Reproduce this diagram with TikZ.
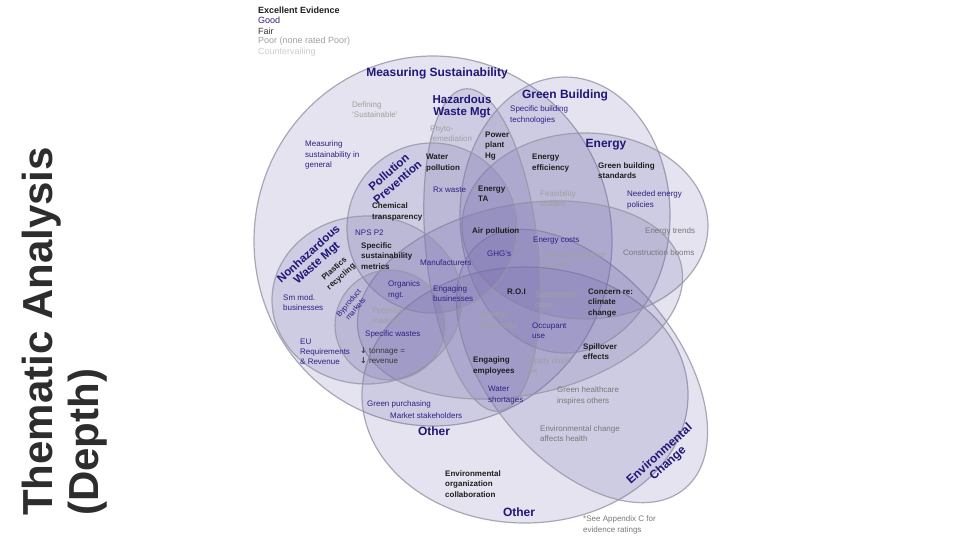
\documentclass[tikz,border=0pt]{standalone}
\usepackage{fontspec}
\setmainfont{Liberation Sans}
\newfontfamily\symfont{DejaVu Sans}
\definecolor{navy}{RGB}{45,32,135}
\definecolor{labnavy}{RGB}{32,22,122}
\definecolor{excc}{RGB}{30,30,30}
\definecolor{fairc}{RGB}{55,55,55}
\definecolor{poorc}{RGB}{160,160,160}
\definecolor{midg}{RGB}{120,120,120}
\definecolor{cntc}{RGB}{205,205,205}
\definecolor{vfill}{RGB}{110,100,170}
\definecolor{vline}{RGB}{150,150,165}
\definecolor{titc}{RGB}{45,45,45}
\begin{document}
\begin{tikzpicture}[x=1pt,y=-1pt,
  venn/.style={fill=vfill, fill opacity=0.18, draw=vline, draw opacity=0.8, line width=1.2pt},
  lab/.style={font=\fontsize{12}{12.5}\selectfont\bfseries, text=labnavy, align=center, inner sep=0pt},
  base/.style={font=\fontsize{8}{10.2}\selectfont, align=left, anchor=west, inner sep=0pt},
  good/.style={base, text=navy},
  exc/.style={base, font=\fontsize{8}{10.2}\selectfont\bfseries, text=excc},
  fair/.style={base, text=fairc},
  poor/.style={base, text=poorc},
  mid/.style={base, text=midg},
  leg/.style={font=\fontsize{9}{10}\selectfont, anchor=west, inner sep=0pt},
  titl/.style={font=\fontsize{42}{47}\selectfont\bfseries, text=titc, rotate=90, anchor=base west, inner sep=0pt}
]
\useasboundingbox (0,0) rectangle (960,540);
\fill[white] (0,0) rectangle (960,540);

% title
\node[titl] (t1) at (52,516) {Thematic Analysis};
\node[titl] (t2) at (98,516) {(Depth)};

% legend
\node[leg, font=\fontsize{9}{10}\selectfont\bfseries, text=excc] (l1) at (258,10) {Excellent Evidence};
\node[leg, text=navy] (l2) at (258,20.5) {Good};
\node[leg, text=fairc] (l3) at (258,31) {Fair};
\node[leg, text=poorc] (l4) at (258,41.5) {Poor (none rated Poor)};
\node[leg, text=cntc] (l5) at (258,52) {Countervailing};

% ellipses
\path[venn] (433,241) ellipse [x radius=179pt, y radius=185pt];
\path[venn] (525,395) ellipse [x radius=163pt, y radius=128pt];
\path[venn, rotate around={-50:(582,366)}] (582,366) ellipse [x radius=160pt, y radius=94pt];
\path[venn] (565,215) ellipse [x radius=105pt, y radius=138pt];
\path[venn] (585,226) ellipse [x radius=123pt, y radius=93pt];
\path[venn, rotate around={12:(520,300)}] (520,300) ellipse [x radius=165pt, y radius=95pt];
\path[venn, rotate around={6:(482,250)}] (482,250) ellipse [x radius=56pt, y radius=162pt];
\path[venn] (432,228) circle [radius=85pt];
\path[venn] (367,300) ellipse [x radius=95pt, y radius=84pt];
\path[venn] (390,325) circle [radius=55pt];

% ellipse labels
\node[lab] (ms) at (437,73) {Measuring Sustainability};
\node[lab, font=\fontsize{11.5}{12}\selectfont\bfseries] (hw) at (462,107) {Hazardous\\Waste Mgt};
\node[lab] (gb) at (565,95) {Green Building};
\node[lab] (en) at (606,145) {Energy};
\node[lab, rotate=41, font=\fontsize{11.5}{13}\selectfont\bfseries] (pp) at (393,177) {Pollution\\Prevention};
\node[lab, rotate=42, font=\fontsize{11.5}{12}\selectfont\bfseries] (nh) at (313,259) {Nonhazardous\\Waste Mgt};
\node[lab] (ot1) at (434,431) {Other};
\node[lab] (ot2) at (519,512) {Other};
\node[lab, rotate=42] (ecl) at (664,459) {Environmental\\Change};

% items
\node[poor] (a1) at (352,110) {Defining\\‘Sustainable’};
\node[good] (a2) at (305,155) {Measuring\\sustainability in\\general};
\node[poor] (a3) at (430,134) {Phyto-\\remediation};
\node[exc] (a4) at (485,146) {Power\\plant\\Hg};
\node[exc] (a5) at (426,163) {Water\\pollution};
\node[good] (a6) at (433,190) {Rx waste};
\node[exc] (a7) at (478,194) {Energy\\TA};
\node[exc] (a8) at (372,212) {Chemical\\transparency};
\node[good] (a9) at (355,233) {NPS P2};
\node[exc] (a10) at (361,256) {Specific\\sustainability\\metrics};
\node[exc, rotate=42, align=center, anchor=center] (a11) at (338,273) {Plastics\\recycling};
\node[good] (a12) at (420,263) {Manufacturers};
\node[good] (a13) at (283,303) {Sm mod.\\businesses};
\node[good, rotate=50, align=center, anchor=center, font=\fontsize{7.5}{9}\selectfont] (a14) at (352,306) {Byproduct\\markets};
\node[good] (a15) at (388,290) {Organics\\mgt.};
\node[good] (a16) at (433,294) {Engaging\\businesses};
\node[poor] (a17) at (372,316) {Potential\\markets};
\node[good] (a18) at (365,334) {Specific wastes};
\node[good] (a19) at (300,352) {EU\\Requirements\\\& Revenue};
\node[fair] (a20) at (360,356) {{\symfont\bfseries ↓} tonnage =\\{\symfont\bfseries ↓} revenue};
\node[exc] (a21) at (472,231) {Air pollution};
\node[good] (a22) at (487,254) {GHG’s};
\node[good] (a23) at (533,241) {Energy costs};
\node[poor] (a24) at (545,260) {Extreme weather\\events};
\node[exc] (a25) at (532,163) {Energy\\efficiency};
\node[poor] (a26) at (540,199) {Feasibility\\studies};
\node[good] (a27) at (510,115) {Specific building\\technologies};
\node[exc] (a28) at (598,171) {Green building\\standards};
\node[good] (a29) at (627,200) {Needed energy\\policies};
\node[mid] (a30) at (645,231) {Energy trends};
\node[mid] (a31) at (623,253) {Construction booms};
\node[exc] (a32) at (507,292) {R.O.I};
\node[poor] (a33) at (535,300) {Sustainable\\cities};
\node[exc] (a34) at (588,303) {Concern re:\\climate\\change};
\node[poor] (a35) at (480,321) {Internal\\leadership};
\node[good] (a36) at (532,331) {Occupant\\use};
\node[exc] (a37) at (583,352) {Spillover\\effects};
\node[exc] (a38) at (473,366) {Engaging\\employees};
\node[poor] (a39) at (525,366) {Supply chain\\risk};
\node[good] (a40) at (488,395) {Water\\shortages};
\node[mid] (a41) at (557,396) {Green healthcare\\inspires others};
\node[good] (a42) at (367,404) {Green purchasing};
\node[good] (a43) at (390,416) {Market stakeholders};
\node[mid] (a44) at (540,434) {Environmental change\\affects health};
\node[exc] (a45) at (445,484) {Environmental\\organization\\collaboration};
\node[mid] (a46) at (583,525) {*See Appendix C for\\evidence ratings};
\end{tikzpicture}
\end{document}
